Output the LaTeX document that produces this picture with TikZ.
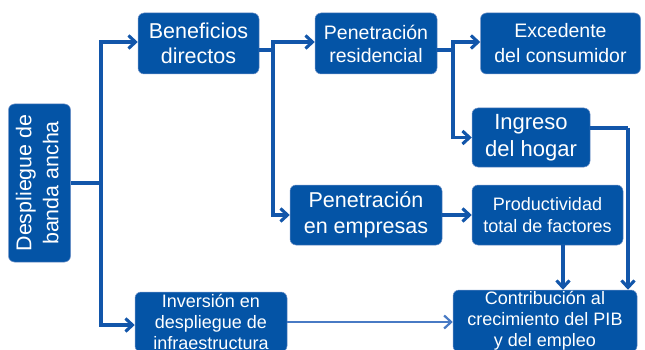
\documentclass[tikz,border=0pt]{standalone}
\usepackage{fontspec}
\usepackage{graphicx}
\setmainfont{Liberation Sans}
\usetikzlibrary{arrows.meta}
\definecolor{boxblue}{RGB}{4,84,166}
\definecolor{lineblue}{RGB}{18,86,170}
\definecolor{lightline}{RGB}{72,122,196}
\definecolor{edgeblue}{RGB}{110,145,200}
\tikzset{
  bbox/.style={rectangle, rounded corners=6pt, fill=boxblue, draw=edgeblue, line width=0.5pt,
    text=white, align=center, inner sep=0pt},
  conn/.style={draw=lineblue, line width=3.1pt, -{Straight Barb[length=7pt,width=13pt]}},
  plain/.style={draw=lineblue, line width=3.1pt},
  thinconn/.style={draw=lightline, line width=2.2pt, -{Straight Barb[length=7pt,width=13pt]}}
}
\begin{document}
\begin{tikzpicture}[x=1pt,y=-1pt]
\clip (0,0) rectangle (645,350);
\fill[white] (0,0) rectangle (645,350);

% nodes
\node[bbox, minimum width=62pt, minimum height=158pt] (desp) at (39.5,183)
  {\rotatebox{90}{\fontsize{21.4}{27}\selectfont\begin{tabular}{@{}c@{}}Despliegue de\\banda ancha\end{tabular}}};
\node[bbox, minimum width=121pt, minimum height=61pt, font=\fontsize{21.5}{25}\selectfont] (ben) at (198.5,43.5)
  {Beneficios\\directos};
\node[bbox, minimum width=122pt, minimum height=61pt, font=\fontsize{19.5}{23}\selectfont] (pres) at (376,43.5)
  {Penetración\\residencial};
\node[bbox, minimum width=160pt, minimum height=61pt, font=\fontsize{19.5}{25}\selectfont] (exc) at (560.5,43.5)
  {Excedente\\del consumidor};
\node[bbox, minimum width=118pt, minimum height=59pt, font=\fontsize{22}{26.5}\selectfont] (ing) at (531,137.5)
  {Ingreso\\del hogar};
\node[bbox, minimum width=152pt, minimum height=60pt, font=\fontsize{21.5}{26}\selectfont] (pemp) at (366,215)
  {Penetración\\en empresas};
\node[bbox, minimum width=151pt, minimum height=60pt, font=\fontsize{18}{22}\selectfont] (prod) at (547.5,215)
  {Productividad\\total de factores};
\node[bbox, minimum width=184pt, minimum height=62pt, font=\fontsize{18}{21}\selectfont] (cont) at (545,321)
  {Contribución al\\crecimiento del PIB\\y del empleo};
\node[bbox, minimum width=152pt, minimum height=60pt, font=\fontsize{18}{21}\selectfont] (inv) at (211,322)
  {Inversión en\\despliegue de\\infraestructura};

% junctions
\coordinate (j1) at (101,183);
\coordinate (j2) at (273,50);
\coordinate (j3) at (453,50);
\coordinate (j4) at (628,128);
\coordinate (j5) at (563,245);

% connectors
\draw[plain] (desp.east) -- (j1);
\draw[conn] (j1) |- ([yshift=1.5pt]ben.west);
\draw[conn] (j1) |- ([yshift=-3pt]inv.west);

\draw[plain] (ben.east |- j2) -- (j2);
\draw[conn] (j2) |- ([yshift=1.5pt]pres.west);
\draw[conn] (j2) |- (pemp.west);

\draw[plain] (pres.east |- j3) -- (j3);
\draw[conn] (j3) |- ([yshift=1.5pt]exc.west);
\draw[conn] (j3) |- (ing.west);

\draw[plain] (ing.east |- j4) -- (j4);
\draw[conn] (j4) -- (j4 |- cont.north);

\draw[conn] (pemp.east) -- (prod.west);
\draw[conn] (j5) -- (j5 |- cont.north);

\draw[thinconn] (inv.east) -- (inv.east -| cont.west);
\end{tikzpicture}
\end{document}
